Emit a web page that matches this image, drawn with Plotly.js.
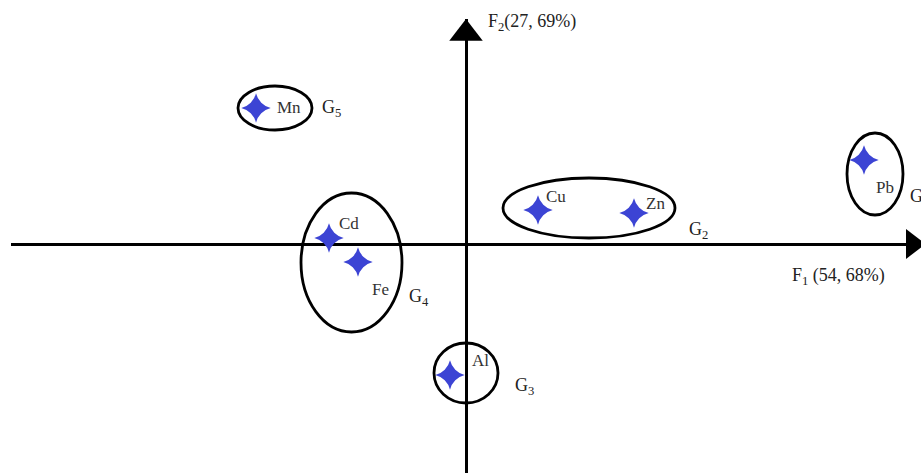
<!DOCTYPE html>
<html>
<head>
<meta charset="utf-8">
<script src="https://cdn.plot.ly/plotly-3.0.1.min.js"></script>
<style>
  html, body { margin: 0; padding: 0; background: #fff; }
  #chart { width: 921px; height: 473px; }
</style>
</head>
<body>
<div id="chart"></div>
<script>
// Elements on the factor plane F1 x F2
const elements = ['Mn', 'Pb', 'Cu', 'Zn', 'Cd', 'Fe', 'Al'];
const f1Score  = [-2.10, 3.98, 0.72, 1.68, -1.37, -1.08, -0.16];
const f2Score  = [ 1.36, 0.84, 0.34, 0.31,  0.06, -0.18, -1.31];

// Groups (ellipse bounds on the same plane)
const groups  = ['G<sub>5</sub>', 'G<sub>1</sub>', 'G<sub>2</sub>', 'G<sub>4</sub>', 'G<sub>3</sub>'];
const groupX0 = [-2.28, 3.81, 0.37, -1.65, -0.32];
const groupX1 = [-1.54, 4.37, 2.09, -0.64,  0.32];
const groupY0 = [ 1.14, 0.29, 0.06, -0.88, -1.59];
const groupY1 = [ 1.58, 1.11, 0.66,  0.51, -0.99];

const axisF1 = 'F<sub>1</sub> (54, 68%)';
const axisF2 = 'F<sub>2</sub>(27, 69%)';

const X_RANGE = [-4.55, 4.55];
const Y_RANGE = [-2.29, 2.25];

// label offsets in pixels (dx right, dy down)
const elemShift  = { Mn: [33, -1], Pb: [21, 27], Cu: [18, -14], Zn: [21, -10],
                     Cd: [20, -15], Fe: [22, 27], Al: [30, -15] };
const groupShift = [[19, 0], [16, 23], [23, 22], [17, 35], [26, 13]];

const SERIF = 'Liberation Serif, Times New Roman, serif';

const annotations = [];
elements.forEach(function(el, i) {
    annotations.push({
        x: f1Score[i], y: f2Score[i], text: el, showarrow: false,
        xanchor: 'center', yanchor: 'middle',
        xshift: elemShift[el][0], yshift: -elemShift[el][1],
        font: { family: SERIF, size: 17, color: '#333' }
    });
});
groups.forEach(function(g, i) {
    annotations.push({
        x: groupX1[i], y: (groupY0[i] + groupY1[i]) / 2, text: g, showarrow: false,
        xanchor: 'center', yanchor: 'middle',
        xshift: groupShift[i][0], yshift: -groupShift[i][1],
        font: { family: SERIF, size: 18, color: '#222' }
    });
});
annotations.push({
    x: 3.72, y: 0, text: axisF1, showarrow: false,
    xanchor: 'center', yanchor: 'middle', yshift: -32,
    font: { family: SERIF, size: 18, color: '#222' }
});
annotations.push({
    x: 0, y: Y_RANGE[1], text: axisF2, showarrow: false,
    xanchor: 'left', yanchor: 'middle', xshift: 20, yshift: -3,
    font: { family: SERIF, size: 18, color: '#222' }
});

const shapes = groups.map(function(g, i) {
    return {
        type: 'circle', xref: 'x', yref: 'y',
        x0: groupX0[i], x1: groupX1[i], y0: groupY0[i], y1: groupY1[i],
        line: { color: '#000', width: 2.8 }
    };
});

const traces = [
    { x: f1Score, y: f2Score, type: 'scatter', mode: 'markers', cliponaxis: false,
      marker: { symbol: 'star-diamond', size: 21, color: '#3c44d4', line: { width: 0 } },
      hoverinfo: 'text', text: elements },
    // arrow heads on the axes
    { x: [0], y: [Y_RANGE[1] - 0.145], type: 'scatter', mode: 'markers', cliponaxis: false,
      marker: { symbol: 'triangle-up', size: 29, color: '#000' }, hoverinfo: 'skip' },
    { x: [X_RANGE[1] - 0.085], y: [0], type: 'scatter', mode: 'markers', cliponaxis: false,
      marker: { symbol: 'triangle-right', size: 26, color: '#000' }, hoverinfo: 'skip' }
];

const axisStyle = {
    showgrid: false, showticklabels: false, ticks: '', showline: false,
    zeroline: true, zerolinecolor: '#000', zerolinewidth: 3, fixedrange: true
};

Plotly.newPlot('chart', traces, {
    width: 921, height: 473,
    margin: { t: 19, r: 0, b: 0, l: 11 },
    paper_bgcolor: '#fff', plot_bgcolor: '#fff',
    showlegend: false,
    xaxis: Object.assign({ range: X_RANGE }, axisStyle),
    yaxis: Object.assign({ range: Y_RANGE }, axisStyle),
    shapes: shapes,
    annotations: annotations
}, { displayModeBar: false, staticPlot: true });
</script>
</body>
</html>
